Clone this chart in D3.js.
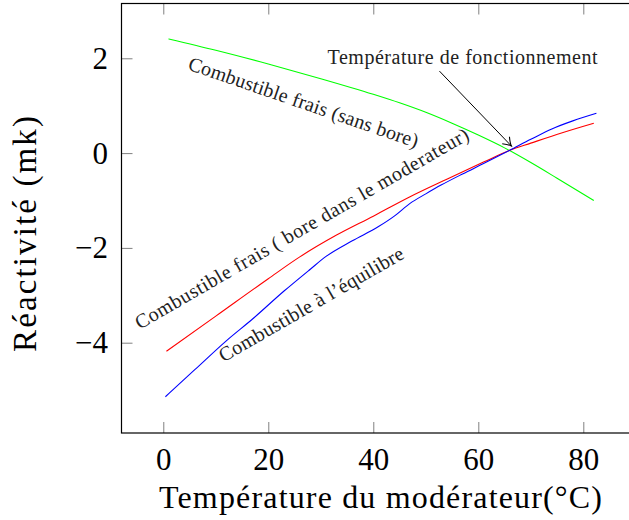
<!DOCTYPE html>
<html>
<head>
<meta charset="utf-8">
<script src="https://cdn.jsdelivr.net/npm/d3@7"></script>
<style>
  body { margin: 0; background: #fff; }
  svg { display: block; font-family: "Liberation Serif", "DejaVu Serif", serif; }
</style>
</head>
<body>
<div id="container"></div>
<script>
/* DATA */
const greenTemp = [1, 10, 20, 30, 40, 45, 50, 55, 60, 65, 70, 75, 82];
const greenReact = [2.41, 2.17, 1.88, 1.57, 1.24, 1.06, 0.86, 0.63, 0.38, 0.11, -0.2, -0.53, -1.0];

const redTemp = [0.6, 10, 20, 26, 33, 40, 47, 54, 61, 66, 70, 76, 82];
const redReact = [-4.18, -3.44, -2.65, -2.19, -1.73, -1.33, -0.92, -0.55, -0.19, 0.06, 0.21, 0.43, 0.63];

const blueTemp = [0.4, 6, 12, 17, 23, 28, 31, 36, 41, 44, 47, 50, 53, 57, 61, 66, 70, 74, 78, 82.5];
const blueReact = [-5.14, -4.57, -3.96, -3.5, -2.91, -2.45, -2.18, -1.85, -1.55, -1.33, -1.06, -0.86, -0.67, -0.44, -0.22, 0.06, 0.29, 0.51, 0.68, 0.84];

const xTicks = [0, 20, 40, 60, 80];
const yTicks = [-4, -2, 0, 2];

// labels on the curves: [text, x, y, angle, length]
const curveLabels = [
  ["Combustible frais (sans bore)", 26.3, 0.94, 19, 242],
  ["Combustible frais ( bore dans le moderateur)", 27.0, -1.71, -30, 382],
  ["Combustible à l’équilibre", 28.8, -3.31, -30, 210]
];
const noteText = "Température de fonctionnement";
const notePos = [57.0, 1.89];
const arrowFrom = [52.6, 1.73];
const arrowTo = [66.3, 0.15];

/* CONSTANTS */
const width = 629, height = 520;
const margin = { top: 3.5, bottom: 87, left: 121.5, right: -11 };

const svg = d3.select("#container").append("svg")
  .attr("width", width)
  .attr("height", height);

svg.append("defs").append("marker")
  .attr("id", "arrow")
  .attr("viewBox", "-10 -6 12 12")
  .attr("refX", 0).attr("refY", 0)
  .attr("markerWidth", 12).attr("markerHeight", 12)
  .attr("markerUnits", "userSpaceOnUse")
  .attr("orient", "auto")
  .append("path")
  .attr("d", "M-8,-5 Q-3,-1 0,0 Q-3,1 -8,5")
  .attr("fill", "none")
  .attr("stroke", "#000")
  .attr("stroke-width", 1.1);

const xScale = d3.scaleLinear()
  .domain([-7.96, 90.8])
  .range([margin.left, width - margin.right]);

const yScale = d3.scaleLinear()
  .domain([-5.905, 3.156])
  .range([height - margin.bottom, margin.top]);

const x0 = margin.left, x1 = width - margin.right;
const y0 = margin.top, y1 = height - margin.bottom;

// + AXES (inner ticks on all four sides)
const tickStyle = g => {
  g.select(".domain").remove();
  g.selectAll(".tick line").attr("stroke", "#808080").attr("stroke-width", 1);
};

svg.append("g")
  .attr("transform", `translate(0,${y1})`)
  .call(d3.axisBottom(xScale).tickValues(xTicks).tickSize(-11).tickPadding(15))
  .call(tickStyle)
  .selectAll("text")
  .attr("font-size", 31)
  .attr("font-family", "Liberation Serif")
  .attr("fill", "#000");

svg.append("g")
  .attr("transform", `translate(0,${y0})`)
  .call(d3.axisTop(xScale).tickValues(xTicks).tickSize(-11).tickFormat(""))
  .call(tickStyle);

svg.append("g")
  .attr("transform", `translate(${x0},0)`)
  .call(d3.axisLeft(yScale).tickValues(yTicks).tickSize(-11).tickPadding(13.5))
  .call(tickStyle)
  .selectAll("text")
  .attr("font-size", 31)
  .attr("font-family", "Liberation Serif")
  .attr("fill", "#000");

svg.append("g")
  .attr("transform", `translate(${x1},0)`)
  .call(d3.axisRight(yScale).tickValues(yTicks).tickSize(-11).tickFormat(""))
  .call(tickStyle);

// frame
svg.append("rect")
  .attr("x", x0).attr("y", y0)
  .attr("width", x1 - x0).attr("height", y1 - y0)
  .attr("fill", "none")
  .attr("stroke", "#000")
  .attr("stroke-width", 1.2);

// + LINES
const line = d3.line()
  .curve(d3.curveMonotoneX)
  .x(d => xScale(d[0]))
  .y(d => yScale(d[1]));

const series = [
  { t: greenTemp, r: greenReact, color: "#00ff00" },
  { t: redTemp, r: redReact, color: "#ff0000" },
  { t: blueTemp, r: blueReact, color: "#0000ff" }
];

svg.append("g")
  .selectAll("path")
  .data(series)
  .join("path")
  .attr("d", d => line(d.t.map((v, i) => [v, d.r[i]])))
  .attr("fill", "none")
  .attr("stroke", d => d.color)
  .attr("stroke-width", 1.1);

// + LABELS
svg.append("g")
  .selectAll("text")
  .data(curveLabels)
  .join("text")
  .attr("transform", d => `translate(${xScale(d[1])},${yScale(d[2])}) rotate(${d[3]})`)
  .attr("text-anchor", "middle")
  .attr("font-size", 20)
  .attr("fill", "#222")
  .attr("textLength", d => d[4])
  .attr("lengthAdjust", "spacing")
  .text(d => d[0]);

svg.append("text")
  .attr("x", xScale(notePos[0]))
  .attr("y", yScale(notePos[1]))
  .attr("text-anchor", "middle")
  .attr("font-size", 20)
  .attr("fill", "#222")
  .attr("textLength", 270)
  .attr("lengthAdjust", "spacing")
  .text(noteText);

svg.append("line")
  .attr("x1", xScale(arrowFrom[0])).attr("y1", yScale(arrowFrom[1]))
  .attr("x2", xScale(arrowTo[0])).attr("y2", yScale(arrowTo[1]))
  .attr("stroke", "#000")
  .attr("stroke-width", 1)
  .attr("marker-end", "url(#arrow)");

// axis titles
svg.append("text")
  .attr("x", 380.5)
  .attr("y", 508)
  .attr("text-anchor", "middle")
  .attr("font-size", 32)
  .attr("textLength", 443)
  .attr("lengthAdjust", "spacing")
  .text("Température du modérateur(°C)");

svg.append("text")
  .attr("transform", "translate(36,234) rotate(-90)")
  .attr("text-anchor", "middle")
  .attr("font-size", 33)
  .attr("textLength", 236)
  .attr("lengthAdjust", "spacing")
  .text("Réactivité (mk)");
</script>
</body>
</html>
